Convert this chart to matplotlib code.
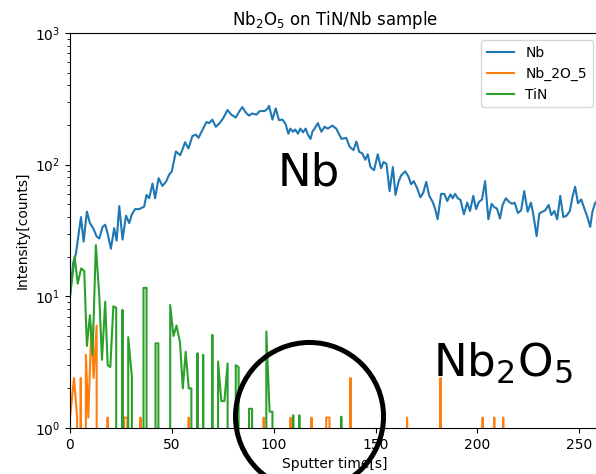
import matplotlib
matplotlib.use("Agg")
import matplotlib.pyplot as plt

# Nb signal (time [s], counts)
nb_time = [0.0, 1.6, 2.9, 5.4, 6.7, 8.3, 9.8, 11.4, 13.1, 14.4, 16.0, 17.3, 18.5, 20.1,
           21.7, 22.9, 24.2, 25.8, 27.5, 29.1, 30.4, 32.0, 34.0, 36.4, 37.6, 38.9, 40.5,
           41.8, 43.5, 45.4, 47.1, 48.7, 50.0, 52.0, 54.1, 55.2, 56.5, 58.2, 60.1, 61.8,
           63.1, 65.4, 67.0, 68.3, 69.9, 71.6, 73.5, 75.2, 77.3, 79.2, 81.4, 83.0, 84.6,
           86.3, 87.9, 89.5, 91.5, 93.1, 95.6, 96.9, 97.7, 99.4, 101.0, 102.6, 104.3,
           105.9, 107.2, 108.2, 109.5, 110.6, 111.9, 113.1, 114.4, 115.7, 116.8, 118.1,
           119.0, 120.1, 121.7, 123.4, 125.0, 126.6, 128.8, 130.7, 133.3, 135.6, 137.3,
           139.2, 140.6, 142.0, 143.5, 145.0, 146.2, 147.5, 149.3, 151.1, 152.7, 154.0,
           155.4, 156.9, 158.5, 159.8, 161.3, 162.6, 164.6, 166.2, 167.5, 168.8, 170.5,
           172.0, 173.4, 174.9, 176.4, 178.1, 179.2, 180.5, 182.2, 183.8, 185.2, 186.8,
           187.9, 189.1, 190.4, 191.7, 193.4, 195.0, 196.4, 198.0, 199.4, 200.7, 202.3,
           203.8, 205.4, 207.0, 208.3, 209.6, 211.1, 212.4, 214.0, 215.7, 217.0, 218.3,
           219.9, 221.5, 223.0, 224.7, 226.3, 227.4, 229.1, 230.4, 232.0, 233.3, 235.0,
           236.3, 237.8, 239.2, 240.7, 242.2, 243.8, 245.4, 246.7, 248.0, 249.4, 251.0,
           252.3, 253.9, 255.4, 256.5, 257.8, 259.5]
nb_counts = [10, 18, 21, 40, 26, 44, 36, 33, 28.5, 27.5, 33.7, 35, 30, 23,
             33, 26.5, 48.5, 27, 41, 36, 42, 46, 46, 48, 59, 55.6, 72,
             55.6, 79, 69, 74, 84, 89, 126, 118, 130, 148, 133, 165, 169,
             160, 188, 211, 207, 220, 194, 207, 225, 260, 240, 228, 252, 274,
             249, 236, 245, 240, 255, 256, 265, 280, 220, 268, 218, 220,
             203, 172, 188, 178, 185, 172, 188, 176, 188, 169, 157,
             178, 188, 207, 178, 194, 188, 198, 188, 157, 160, 137,
             129, 150, 125, 122, 109, 120, 96, 91, 120, 94, 105,
             101, 63, 96, 59, 74, 83, 89, 81, 71, 75, 66,
             56.5, 61, 74, 58, 52, 46.5, 38.5, 60, 60, 53, 59.5,
             55.6, 60, 55.6, 54, 42, 51.5, 44.5, 58, 46, 52, 54.5,
             75, 38.5, 50.5, 47.5, 46.5, 39, 49.5, 55.6, 52, 50.5, 51.5,
             43, 45, 63, 44, 51.5, 42.5, 28.7, 42.5, 44, 45, 49.5,
             41.5, 44.5, 38.5, 58, 40, 41, 44.5, 57, 68, 51, 54.5,
             47.5, 40.5, 33.7, 44, 51, 55]

# Nb_2O_5 signal, zero counts drop out of the log axis
nb2o5_time = [0.0, 2.0, 3.5, 4.3, 5.3, 6.4, 7.8, 9.0, 10.5, 11.6, 13.1, 14.5,
              16.9, 18.5, 20.1, 25.0, 26.6, 28.2, 29.8, 33.0, 34.6, 36.2,
              56.7, 58.3, 59.9, 93.5, 95.1, 96.7, 106.7, 108.3, 109.9,
              117.0, 118.6, 120.2, 124.2, 125.8, 127.4, 129.0, 136.1, 137.7, 139.3,
              163.9, 165.5, 167.1, 180.3, 181.9, 183.5, 201.0, 202.6, 204.2,
              206.7, 208.3, 209.9, 211.1, 212.7, 214.3, 260.0]
nb2o5_counts = [1.2, 2.4, 1.2, 0, 2.4, 0, 3.6, 1.2, 6.0, 2.4, 6.0, 0,
                0, 1.2, 0, 0, 1.2, 1.2, 0, 0, 1.2, 0,
                0, 1.2, 0, 0, 1.2, 0, 0, 1.2, 0,
                0, 1.2, 0, 0, 1.2, 1.2, 0, 0, 2.4, 0,
                0, 1.2, 0, 0, 2.4, 0, 0, 1.2, 0,
                0, 1.2, 0, 0, 1.2, 0, 0]

# TiN signal
tin_time = [0.0, 2.3, 3.8, 5.5, 7.0, 8.3, 9.8, 11.1, 12.7, 14.4, 15.7, 17.3, 18.5,
            19.8, 21.3, 22.7, 24.2, 25.8, 27.3, 28.6, 30.4, 32.0, 34.6, 36.1, 37.6,
            39.2, 40.5, 42.0, 43.4, 45.0, 47.6, 49.2, 50.8, 52.3, 54.0, 55.4, 56.8,
            58.3, 59.6, 61.0, 62.6, 64.0, 65.4, 67.0, 68.4, 69.9, 71.3, 72.7, 74.3,
            75.8, 77.4, 79.0, 80.2, 81.4, 82.8, 84.4, 86.3, 87.9, 89.4, 91.0, 94.8,
            96.4, 98.0, 99.4, 101.0, 108.0, 109.6, 111.1, 112.6, 114.1, 131.7,
            133.2, 134.7, 260.0]
tin_counts = [10, 20, 12.5, 16.3, 15.6, 4.2, 7.2, 3.6, 24.5, 10, 3.3, 9.1, 3.0,
              2.9, 8.4, 8.2, 0, 7.9, 0, 4.9, 2.45, 0, 0, 11.6, 11.6,
              0, 0, 4.4, 4.4, 0, 0, 8.6, 5.0, 6.0, 4.5, 2.0, 3.8,
              2.0, 2.0, 0, 3.7, 0, 3.6, 0, 0, 5.1, 0, 3.2, 1.6,
              1.6, 3.1, 0, 0, 3.0, 2.9, 0, 0, 1.4, 1.4, 0, 0,
              5.4, 1.33, 1.33, 0, 0, 1.25, 0, 1.25, 0, 0,
              1.22, 0, 0]

fig = plt.figure(figsize=(5.96, 4.74), dpi=100)
ax = fig.add_axes([0.1174, 0.097, 0.8886, 0.8333])

ax.plot(nb_time, nb_counts, label='Nb')
ax.plot(nb2o5_time, nb2o5_counts, label='Nb_2O_5')
ax.plot(tin_time, tin_counts, label='TiN')
ax.set_yscale('log')
ax.set_xlim(0, 260)
ax.set_ylim(1, 1000)

ax.set_title('Nb$_2$O$_5$ on TiN/Nb sample')
ax.set_xlabel('Sputter time[s]')
ax.set_ylabel('Intensity[counts]')
ax.legend(loc='upper right')

# big annotations
ax.text(102, 70, 'Nb', fontsize=32.5)
ax.text(178, 2.5, 'Nb$_2$O$_5$', fontsize=32.5)

# ring highlighting the low-count region
ax.plot([117.2], [1.228], 'o', ms=106.6, mfc='none', mec='black', mew=3.6,
        clip_on=False, zorder=5)

fig.savefig('out.png', dpi=100)
